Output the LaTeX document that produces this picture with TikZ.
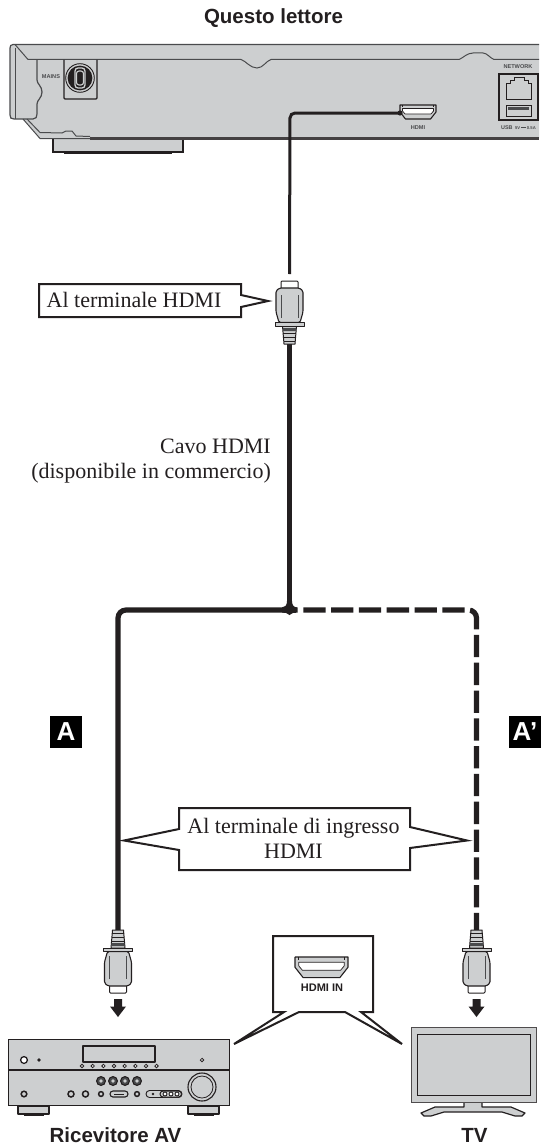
\documentclass[tikz,border=0pt]{standalone}
\usepackage{fontspec}
\setmainfont{Liberation Serif}
\setsansfont{Liberation Sans}
\definecolor{panel}{HTML}{CDCFD0}
\definecolor{ink}{HTML}{231F20}
\definecolor{midgray}{HTML}{4A4B4D}
\newcommand{\hplug}[3]{%
 \begin{scope}[shift={(#1,#2)},yscale=#3,line join=round]
  \draw[ink,fill=white,line width=1] (-8.5,7.5) -- (-8.5,1) -- (-7.5,0) -- (7.5,0) -- (8.5,1) -- (8.5,7.5);
  \draw[ink,fill=panel,line width=1.1,rounded corners=1.5] (-10,7) -- (10,7) -- (13.5,10) -- (13.5,31) -- (10.5,41.5) -- (-10.5,41.5) -- (-13.5,31) -- (-13.5,10) -- cycle;
  \draw[midgray,line width=.7] (-8.5,14) -- (-8.5,37) (8.5,14) -- (8.5,37);
  \draw[ink,fill=panel,line width=1] (-7,45) -- (7,45) -- (5.5,63) -- (-5.5,63) -- cycle;
  \fill[midgray] (-6.8,47) -- (6.8,47) -- (6.5,50) -- (-6.5,50) -- cycle;
  \draw[ink,line width=.8] (-6.4,52) -- (6.4,52) (-6.1,56) -- (6.1,56) (-5.8,60) -- (5.8,60);
  \draw[ink,fill=panel,line width=1] (-14.5,41.5) rectangle (14.5,45);
 \end{scope}}
\newcommand{\hport}[3]{%
 \begin{scope}[shift={(#1,#2)},scale=#3,line join=round]
  \draw[ink,fill=panel,line width=1.1] (-18,0) -- (18,0) -- (18,7) -- (12.5,14) -- (-12.5,14) -- (-18,7) -- cycle;
  \draw[ink,fill=white,line width=.7] (-15.5,3.5) -- (15.5,3.5) -- (15.5,6) -- (13,9) -- (-13,9) -- (-15.5,6) -- cycle;
  \draw[ink,line width=.7] (-15.5,0) -- (-15.5,2) (15.5,0) -- (15.5,2);
 \end{scope}}
\newcommand{\bigarrow}[2]{%
 \fill[ink] (#1-4,#2) -- (#1+4,#2) -- (#1+4,#2+7.5) -- (#1+8,#2+7.5) -- (#1,#2+18) -- (#1-8,#2+7.5) -- (#1-4,#2+7.5) -- cycle;}
\tikzset{
 lbl/.style={inner sep=0pt,font=\fontsize{22}{25}\selectfont,text=ink},
 head/.style={inner sep=0pt,font=\fontsize{20.5}{24}\selectfont\sffamily\bfseries,text=ink},
 tiny/.style={inner sep=0pt,font=\fontsize{5.6}{6}\selectfont\sffamily\bfseries,text=midgray},
 badge/.style={fill=black,text=white,inner sep=0pt,minimum width=32pt,minimum height=32pt,font=\fontsize{26}{26}\selectfont\sffamily\bfseries},
 callout/.style={draw=ink,fill=white,line width=2,line join=miter},
 cable/.style={ink,line width=5.2},
 outline/.style={draw=ink,line width=1.1,line join=round},
 btn/.style={draw=ink,fill=panel,line width=1.1},
 dot/.style={fill=ink},
}
\begin{document}
\begin{tikzpicture}[x=1pt,y=-1pt]
\useasboundingbox (0,0) rectangle (542,1148);
\fill[white] (0,0) rectangle (542,1148);

% ---- player
\fill[panel] (13,44.5) -- (539,44.5) -- (539,138) -- (40,138) -- (23,119) -- (13,119) -- (10,116) -- (10,48) -- cycle;
\draw[ink,fill=panel,line width=1.1] (53,139) -- (53,152) -- (183,152) -- (183,139);
\fill[ink] (64,152) rectangle (172,154);
\draw[midgray,line width=1.2] (539,44.5) -- (13,44.5) .. controls (11,44.5) and (10,46) .. (10,48) -- (10,115) .. controls (10,118) and (11,119) .. (14,119) -- (33,119) .. controls (36,119) and (37,117) .. (37,114) -- (37,104) .. controls (37,100) and (42,98) .. (42,92) .. controls (42,86) and (37,84) .. (37,80) -- (37,60);
\draw[midgray,line width=1] (15,44.5) -- (28,59.5) -- (241,59.5) .. controls (246,61) and (250,68) .. (257,68) .. controls (263,68) and (266,61) .. (271,59.5) -- (459,59.5) .. controls (463,58) and (467,53) .. (473,53) -- (483,53) .. controls (487,53) and (490,58) .. (494,59.5) -- (539,59.5);
\draw[midgray,line width=1] (15,48) -- (15,119);
\draw[midgray,line width=1] (23,119) -- (40,138.5) -- (90,138.5);
\draw[midgray,line width=1] (27,119) -- (40,132.5) -- (62,133) -- (66,131) -- (72,131) -- (76,136) -- (90,136.5);
\fill[ink!85] (90,136.8) rectangle (539,140);

\node[tiny] (mains) at (51,77) {MAINS};
\draw[ink,line width=1.1,rounded corners=1] (64,60) -- (64,99) -- (97,99) -- (97,60);
\draw[ink,fill=panel,line width=.9] (80,78) circle (14.3);
\fill[ink] (80,78) circle (12.4);
\draw[panel,fill=ink,line width=1.3,rounded corners=3] (75,68) rectangle (85,88);
\draw[panel,line width=1.1,rounded corners=2.5] (76.5,71) rectangle (83.5,85);

\hport{418}{105}{1}
\node[tiny] (hdmiplayer) at (418,127.5) {HDMI};
\node[tiny] (network) at (518,66.5) {NETWORK};
\draw[ink,fill=panel,line width=2] (499,74) rectangle (537.5,120);
\draw[ink,fill=panel,line width=.8] (506,99.5) -- (506,83) -- (510,83) -- (510,80) -- (514,80) -- (514,77.5) -- (524,77.5) -- (524,80) -- (528,80) -- (528,83) -- (531,83) -- (531,99.5) -- cycle;
\draw[ink,fill=panel,line width=.9] (506,105) rectangle (531,116);
\fill[midgray] (508,106.5) rectangle (529,110);
\node[inner sep=0pt,font=\fontsize{5.4}{6}\selectfont\sffamily\bfseries,text=midgray] (usb) at (518.5,127.5) {USB\, {\fontsize{4.2}{5}\selectfont 5V}\,\rule[1pt]{5pt}{1.2pt}\,{\fontsize{4.2}{5}\selectfont 0.5A}};

\node[head] (qlabel) at (273.5,24) [anchor=base] {Questo lettore};

% ---- cables
\coordinate (portend) at (400,113);
\coordinate (hcorner) at (290,113);
\coordinate (plugtop) at (289.5,274);
\coordinate (strain) at (289.5,343);
\coordinate (jct) at (289.5,610);
\coordinate (cornerL) at (118,610);
\coordinate (cornerR) at (476.5,610);
\coordinate (dashstart) at (303.3,610);
\coordinate (plugLin) at (118,932);
\coordinate (plugRin) at (476.5,932);
\draw[ink,line width=3,rounded corners=5] (portend) -- (hcorner) -- (plugtop);
\fill[ink] (portend) circle (2.6);
\draw[cable] (strain) -- (jct);
\draw[cable,rounded corners=8] (jct) -- (cornerL) -- (plugLin);
\draw[cable,rounded corners=8,dash pattern=on 22.3pt off 5.5pt] (dashstart) -- (cornerR) -- (plugRin);
\fill[ink] (282,607.4) .. controls (285,607.4) and (287,605.5) .. (287,601) -- (292,601) .. controls (292,605.5) and (294,607.4) .. (297.5,607.4) -- (297.5,612.6) .. controls (294,612.6) and (291.5,612.8) .. (289.5,615) .. controls (287.5,612.8) and (285,612.6) .. (282,612.6) -- cycle;

\hplug{289.5}{281}{1}
\hplug{118}{993}{-1}
\hplug{476.5}{993}{-1}
\bigarrow{118}{999}
\bigarrow{476.5}{999}

% ---- callouts
\draw[callout] (39,284) -- (241,284) -- (241,295) -- (268,301) -- (241,307) -- (241,317) -- (39,317) -- cycle;
\node[lbl,anchor=base] (t1) at (134,307) {Al terminale HDMI};
\node[lbl,align=right,anchor=north east] (cable) at (271,438.5) {Cavo HDMI\\(disponibile in commercio)};
\draw[callout] (179,808) -- (410,808) -- (410,827) -- (467,840.5) -- (410,848) -- (410,870) -- (179,870) -- (179,850) -- (124,840.5) -- (179,829) -- cycle;
\node[lbl,align=center,anchor=north] (t2) at (293.5,818) {Al terminale di ingresso\\HDMI};
\node[badge] (badgeA) at (66,732) {A};
\node[badge] (badgeB) at (525,732) {A’};

\draw[callout] (273,936) -- (373,936) -- (373,1012) -- (361,1012) -- (402,1044) -- (345,1012) -- (299,1012) -- (234,1044) -- (284,1012) -- (273,1012) -- cycle;
\hport{321.5}{957}{1.47}
\node[inner sep=0pt,anchor=base,font=\fontsize{11}{12}\selectfont\sffamily\bfseries,text=ink] (hdmiin) at (322,991) {HDMI IN};

% ---- receiver
\draw[outline,fill=panel] (18,1106) rectangle (49,1114);
\draw[outline,fill=panel] (188,1106) rectangle (219,1114);
\fill[ink] (24,1114) rectangle (44,1115.5);
\fill[ink] (194,1114) rectangle (214,1115.5);
\draw[draw=ink,line width=1.5,fill=panel] (8.5,1039.5) rectangle (229.5,1105.5);
\draw[ink,line width=1.1] (8.5,1070) -- (229.5,1070);
\draw[outline,fill=panel] (83,1046) rectangle (155,1062);
\foreach \x in {82,92.7,103.4,114,124.7,135.4,146,156.5}
  \draw[ink,fill=white,line width=.8] (\x,1066) circle (1.7);
\draw[ink,fill=white,line width=1.3] (24,1060) circle (3.4);
\fill[ink] (39,1060) circle (1.8);
\draw[ink,fill=white,line width=.8] (202,1060) circle (1.7);
\draw[ink,fill=panel,line width=1.1] (202,1087) circle (14);
\draw[ink,line width=.8] (202,1087) circle (11);
\foreach \x in {101,113,125,137}{
  \draw[ink,fill=midgray,line width=1.1] (\x,1081) circle (4.4);
  \fill[panel] (\x,1081) circle (1.9);}
\foreach \x/\r in {24/2.8,71/3,85.5/3,101/2.4,137/2.4}{
  \draw[ink,fill=panel,line width=1.5] (\x,1094) circle (\r);}
\draw[btn,rounded corners=3] (110,1091) rectangle (128,1097);
\draw[ink,line width=.8] (114,1094) -- (124,1094);
\draw[ink,fill=panel,line width=.9,rounded corners=3.5] (146,1090.5) rectangle (182,1097.5);
\draw[ink,fill=panel,line width=1,rounded corners=3] (160,1091) rectangle (181.5,1097);
\fill[ink] (153,1094) circle (1.3);
\foreach \x in {165,171,177}
  \draw[ink,fill=white,line width=.9] (\x,1094) circle (2);
\node[head,anchor=base] (avlabel) at (115.5,1142) {Ricevitore AV};

% ---- TV
\draw[draw=ink,line width=1.2,fill=panel,line join=round] (464,1102) -- (464,1107) -- (435,1107) -- (421,1113) -- (424,1116) -- (431,1116) -- (444,1112) -- (464,1112) -- (482,1112) -- (502,1112) -- (515,1116) -- (522,1116) -- (525,1113) -- (511,1107) -- (482,1107) -- (482,1102);
\fill[panel] (464.6,1101) rectangle (481.4,1111);
\draw[draw=ink!80,line width=1,fill=panel] (411,1027) rectangle (536,1102);
\draw[draw=ink,line width=.9] (417,1034) rectangle (530,1095);
\node[head,anchor=base] (tvlabel) at (474.5,1142) {TV};
\end{tikzpicture}
\end{document}
